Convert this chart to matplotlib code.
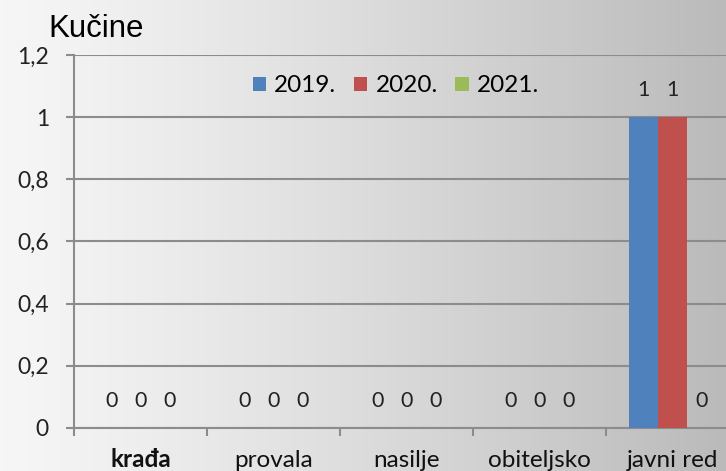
import numpy as np
import matplotlib.pyplot as plt

categories = ['krađa', 'provala', 'nasilje', 'obiteljsko', 'javni red']
years = ['2019.', '2020.', '2021.']
values = [
    [0, 0, 0, 0, 1],   # 2019.
    [0, 0, 0, 0, 1],   # 2020.
    [0, 0, 0, 0, 0],   # 2021.
]
colors = ['#4f81bd', '#c0504d', '#9bbb59']
yticks = [0, 0.2, 0.4, 0.6, 0.8, 1.0, 1.2]
ytick_labels = ['0', '0,2', '0,4', '0,6', '0,8', '1', '1,2']

W, H = 726, 471
fig = plt.figure(figsize=(W / 100, H / 100), dpi=100)
fnt = 'Lato'

# background gradient, light on the left to grey on the right
bg = fig.add_axes([0, 0, 1, 1], zorder=-10)
grad = np.linspace(0, 1, 256)
shade = 0.965 - 0.235 * grad ** 1.2
img = np.dstack([shade, shade, shade]).repeat(2, axis=0)
bg.imshow(img, aspect='auto', extent=[0, 1, 0, 1])
bg.axis('off')

left, bottom, top = 74, 428, 55
ax = fig.add_axes([left / W, (H - bottom) / H, (W - left) / W, (bottom - top) / H])
ax.patch.set_alpha(0)

cat_w = 133.0
x = np.arange(len(categories))
bw = 29 / cat_w
for i, (yr, vals, c) in enumerate(zip(years, values, colors)):
    pos = x + (i - 1) * bw
    ax.bar(pos, vals, width=bw, color=c, label=yr, zorder=3)
    for px, v in zip(pos, vals):
        ax.text(px, v + 0.068, f'{v:g}', ha='center', va='baseline',
                fontsize=15.5, color='#222222', family=fnt)

ax.set_xticks(np.arange(len(categories) + 1) - 0.5)
ax.set_xticklabels([])
ax.tick_params(axis='x', length=6, color='#8c8c8c', width=1.5)
ax.set_xlim(-0.5, (W - left) / cat_w - 0.5)

ax.set_ylim(0, 1.2)
ax.set_yticks(yticks)
ax.set_yticklabels(ytick_labels, fontsize=16.5, color='#222222', family=fnt)
ax.yaxis.grid(True, color='#8c8c8c', linewidth=1.5, zorder=0)
ax.tick_params(axis='y', length=6, color='#8c8c8c', width=1.5, pad=12)

for xi, cat in enumerate(categories):
    ax.text(xi, -0.127, cat, ha='center', va='baseline', fontsize=17.5, color='#111111',
            family=fnt, fontweight='bold' if xi == 0 else 'normal')

for s in ['top', 'right']:
    ax.spines[s].set_visible(False)
for s in ['left', 'bottom']:
    ax.spines[s].set_color('#8c8c8c')
    ax.spines[s].set_linewidth(1.5)

fig.text(48 / W, 1 - 37 / H, 'Kučine', fontsize=22.5, va='baseline', ha='left',
         family='Liberation Sans', color='#000000')

leg = ax.legend(loc='center', bbox_to_anchor=((396 - left) / (W - left), (bottom - 86) / (bottom - top)),
                ncol=3, frameon=False, handlelength=0.55, handleheight=0.55,
                handletextpad=0.34, columnspacing=0.72,
                prop={'family': fnt, 'size': 17.5})

fig.savefig('out.png', dpi=100)
